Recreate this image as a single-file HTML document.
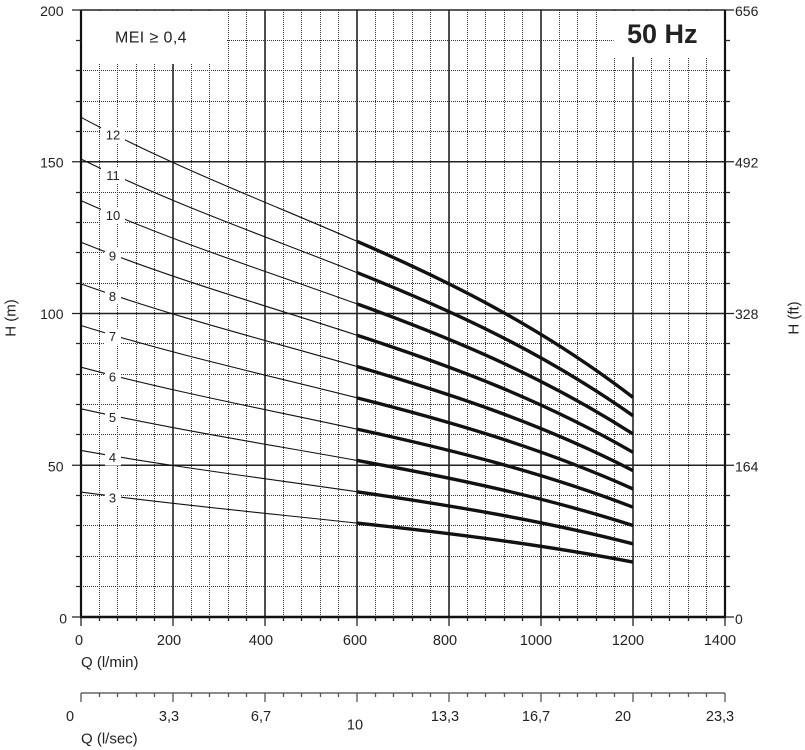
<!DOCTYPE html>
<html><head><meta charset="utf-8"><style>
html,body{margin:0;padding:0;background:#fff;}
svg{display:block;}
text{font-family:"Liberation Sans",sans-serif;fill:#222;}
</style></head><body>
<svg width="805" height="750" viewBox="0 0 805 750" xmlns="http://www.w3.org/2000/svg">
<rect x="0" y="0" width="805" height="750" fill="#fff"/>
<!-- minor vertical grid -->
<path fill="none" stroke="#333" stroke-width="1" stroke-dasharray="1 1" shape-rendering="crispEdges" d="
M99.5 10V617 M117.5 10V617 M136.5 10V617 M154.5 10V617 M191.5 10V617 M209.5 10V617 M228.5 10V617 M246.5 10V617
M283.5 10V617 M301.5 10V617 M320.5 10V617 M338.5 10V617 M375.5 10V617 M393.5 10V617 M412.5 10V617 M430.5 10V617
M467.5 10V617 M485.5 10V617 M504.5 10V617 M522.5 10V617 M559.5 10V617 M577.5 10V617 M596.5 10V617 M614.5 10V617
M651.5 10V617 M669.5 10V617 M688.5 10V617 M706.5 10V617"/>
<!-- minor horizontal grid -->
<path fill="none" stroke="#333" stroke-width="1" stroke-dasharray="1 1" shape-rendering="crispEdges" d="
M81 586.5H725 M81 556.5H725 M81 525.5H725 M81 495.5H725 M81 434.5H725 M81 404.5H725 M81 374.5H725 M81 343.5H725
M81 283.5H725 M81 252.5H725 M81 222.5H725 M81 192.5H725 M81 131.5H725 M81 101.5H725 M81 70.5H725 M81 40.5H725"/>
<!-- major grid -->
<path fill="none" stroke="#222" stroke-width="1.6" d="
M173 10V617 M265 10V617 M357 10V617 M449 10V617 M541 10V617 M633 10V617
M81 465.25H725 M81 313.5H725 M81 161.75H725"/>
<!-- white boxes -->
<rect x="82" y="11" width="145" height="53" fill="#fff"/>
<rect x="613.5" y="11" width="110.5" height="46" fill="#fff"/>
<!-- frame -->
<path fill="none" stroke="#222" stroke-width="1.5" d="M81 10H725"/>
<path fill="none" stroke="#111" stroke-width="2.2" d="M81 9.5V617 M725 9.5V617"/>
<path fill="none" stroke="#111" stroke-width="2.6" d="M80 617H726"/>
<!-- left ticks -->
<path fill="none" stroke="#222" stroke-width="1.3" d="M72 617H81 M72 465.25H81 M72 313.5H81 M72 161.75H81 M72 10H81
M76 586.5H81 M76 556.5H81 M76 525.5H81 M76 495.5H81 M76 434.5H81 M76 404.5H81 M76 374.5H81 M76 343.5H81
M76 283.5H81 M76 252.5H81 M76 222.5H81 M76 192.5H81 M76 131.5H81 M76 101.5H81 M76 70.5H81 M76 40.5H81"/>
<!-- right ticks -->
<path fill="none" stroke="#222" stroke-width="1.3" d="M725 617H734 M725 465.25H734 M725 313.5H734 M725 161.75H734 M725 10H734
M725 586.5H730 M725 556.5H730 M725 525.5H730 M725 495.5H730 M725 434.5H730 M725 404.5H730 M725 374.5H730 M725 343.5H730
M725 283.5H730 M725 252.5H730 M725 222.5H730 M725 192.5H730 M725 131.5H730 M725 101.5H730 M725 70.5H730 M725 40.5H730"/>
<!-- bottom ticks -->
<path fill="none" stroke="#222" stroke-width="1.3" d="M81 617V626 M173 617V626 M265 617V626 M357 617V626 M449 617V626 M541 617V626 M633 617V626 M725 617V626
M99.5 617V621 M117.5 617V621 M136.5 617V621 M154.5 617V621 M191.5 617V621 M209.5 617V621 M228.5 617V621 M246.5 617V621
M283.5 617V621 M301.5 617V621 M320.5 617V621 M338.5 617V621 M375.5 617V621 M393.5 617V621 M412.5 617V621 M430.5 617V621
M467.5 617V621 M485.5 617V621 M504.5 617V621 M522.5 617V621 M559.5 617V621 M577.5 617V621 M596.5 617V621 M614.5 617V621
M651.5 617V621 M669.5 617V621 M688.5 617V621 M706.5 617V621"/>
<!-- second axis -->
<path fill="none" stroke="#666" stroke-width="1.4" d="M81 693H725"/>
<path fill="none" stroke="#555" stroke-width="1.3" d="M81 693V702 M173 693V702 M265 693V702 M357 693V702 M449 693V702 M541 693V702 M633 693V702 M725 693V702
M99.5 693V697 M117.5 693V697 M136.5 693V697 M154.5 693V697 M191.5 693V697 M209.5 693V697 M228.5 693V697 M246.5 693V697
M283.5 693V697 M301.5 693V697 M320.5 693V697 M338.5 693V697 M375.5 693V697 M393.5 693V697 M412.5 693V697 M430.5 693V697
M467.5 693V697 M485.5 693V697 M504.5 693V697 M522.5 693V697 M559.5 693V697 M577.5 693V697 M596.5 693V697 M614.5 693V697
M651.5 693V697 M669.5 693V697 M688.5 693V697 M706.5 693V697"/>
<!-- curves thin -->
<g fill="none" stroke="#111" stroke-width="1.1">
<path d="M81,492.08 C173,504.41 265,513.07 357,523.07"/>
<path d="M81,450.44 C173,466.87 265,478.43 357,491.76"/>
<path d="M81,408.80 C173,429.34 265,443.78 357,460.45"/>
<path d="M81,367.16 C173,391.81 265,409.14 357,429.15"/>
<path d="M81,325.52 C173,354.28 265,374.50 357,397.84"/>
<path d="M81,283.88 C173,316.75 265,339.85 357,366.53"/>
<path d="M81,242.24 C173,279.21 265,305.21 357,335.22"/>
<path d="M81,200.60 C173,241.68 265,270.56 357,303.91"/>
<path d="M81,158.96 C173,204.15 265,235.92 357,272.60"/>
<path d="M81,117.32 C173,166.62 265,201.28 357,241.29"/>
</g>
<!-- curves thick -->
<g fill="none" stroke="#111" stroke-width="3.4">
<path d="M357,523.07 C449,533.08 541,544.42 633,562.10"/>
<path d="M357,491.76 C449,505.10 541,520.22 633,543.80"/>
<path d="M357,460.45 C449,477.13 541,496.03 633,525.50"/>
<path d="M357,429.15 C449,449.15 541,471.84 633,507.19"/>
<path d="M357,397.84 C449,421.18 541,447.64 633,488.89"/>
<path d="M357,366.53 C449,393.20 541,423.45 633,470.59"/>
<path d="M357,335.22 C449,365.23 541,399.25 633,452.29"/>
<path d="M357,303.91 C449,337.25 541,375.06 633,433.99"/>
<path d="M357,272.60 C449,309.28 541,350.87 633,415.69"/>
<path d="M357,241.29 C449,281.31 541,326.67 633,397.39"/>
</g>
<!-- label backgrounds -->
<g fill="#fff">
<rect x="101" y="126.9" width="24" height="16"/>
<rect x="101" y="167.3" width="24" height="16"/>
<rect x="101" y="207.6" width="24" height="16"/>
<rect x="105" y="247.9" width="16" height="16"/>
<rect x="105" y="288.3" width="16" height="16"/>
<rect x="105" y="328.6" width="16" height="16"/>
<rect x="105" y="369" width="16" height="16"/>
<rect x="105" y="409.3" width="16" height="16"/>
<rect x="105" y="449.6" width="16" height="16"/>
<rect x="105" y="490" width="16" height="16"/>
</g>
<g font-size="13" text-anchor="middle" fill="#222">
<text x="113" y="139.4">12</text>
<text x="113" y="179.8">11</text>
<text x="113" y="220.1">10</text>
<text x="112.5" y="260.4">9</text>
<text x="112.5" y="300.8">8</text>
<text x="112.5" y="341.1">7</text>
<text x="112.5" y="381.5">6</text>
<text x="112.5" y="421.8">5</text>
<text x="112.5" y="462.1">4</text>
<text x="112.5" y="502.5">3</text>
</g>
<!-- box texts -->
<text x="115" y="42.7" font-size="16" letter-spacing="0.4" fill="#333">MEI ≥ 0,4</text>
<text x="627" y="43" font-size="27" font-weight="bold" fill="#1a1a1a">50 Hz</text>
<!-- left axis labels -->
<g font-size="14" text-anchor="end">
<text x="63.5" y="16">200</text>
<text x="63.5" y="167.5">150</text>
<text x="63.5" y="319">100</text>
<text x="63.5" y="471.5">50</text>
<text x="67" y="623.5">0</text>
</g>
<!-- right axis labels -->
<g font-size="14" text-anchor="start">
<text x="735" y="16">656</text>
<text x="735" y="167.5">492</text>
<text x="735" y="319">328</text>
<text x="735" y="471.5">164</text>
<text x="735" y="624">0</text>
</g>
<!-- bottom axis labels -->
<g font-size="14.5" text-anchor="middle">
<text x="79" y="645">0</text>
<text x="169" y="645">200</text>
<text x="261" y="645">400</text>
<text x="355" y="645">600</text>
<text x="445" y="645">800</text>
<text x="536" y="645">1000</text>
<text x="628" y="645">1200</text>
<text x="720" y="645">1400</text>
</g>
<text x="81" y="667" font-size="15">Q (l/min)</text>
<g font-size="14.5" text-anchor="middle">
<text x="70" y="721">0</text>
<text x="169" y="721">3,3</text>
<text x="261" y="721">6,7</text>
<text x="355" y="729.5">10</text>
<text x="445" y="721">13,3</text>
<text x="536" y="721">16,7</text>
<text x="623" y="721">20</text>
<text x="720" y="721">23,3</text>
</g>
<text x="81" y="743.5" font-size="15">Q (l/sec)</text>
<text transform="translate(15.5,318) rotate(-90)" font-size="15" text-anchor="middle">H (m)</text>
<text transform="translate(798.5,318) rotate(-90)" font-size="15" text-anchor="middle">H (ft)</text>
</svg>
</body></html>
